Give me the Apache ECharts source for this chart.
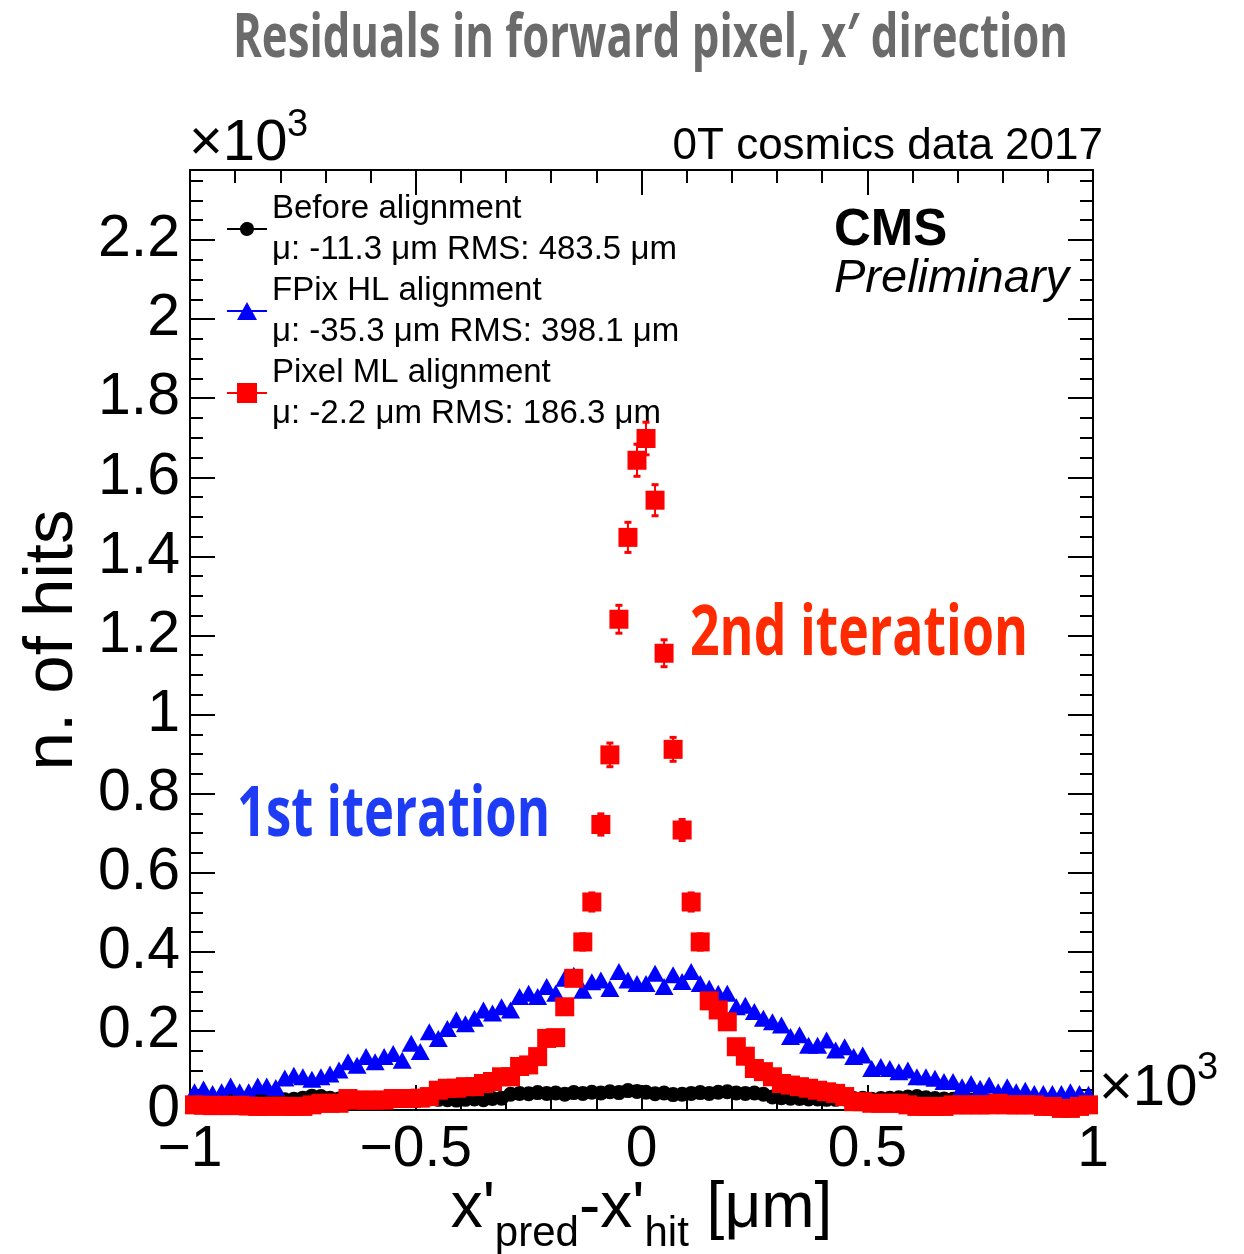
<!DOCTYPE html>
<html>
<head>
<meta charset="utf-8">
<script src="https://cdn.jsdelivr.net/npm/echarts@6/dist/echarts.min.js"></script>
<style>
html, body { margin: 0; padding: 0; background: #fff; }
#chart { width: 1244px; height: 1254px; }
</style>
</head>
<body>
<div id="chart"></div>
<script>
// histogram binning: 100 bins of 20 um between -1000 and 1000 um
const binLow = -1000;
const binWidth = 20;

// hits per bin
const beforeAlign = [
  20, 22, 25, 24, 22, 26, 25, 23, 27, 25,
  26, 27, 30, 35, 34, 30, 28, 27, 25, 26,
  24, 26, 24, 27, 25, 26, 28, 27, 26, 25,
  27, 28, 26, 29, 30, 40, 42, 41, 44, 42,
  43, 40, 44, 42, 45, 43, 46, 44, 49, 47,
  45, 41, 43, 39, 40, 42, 44, 42, 45, 46,
  43, 42, 43, 40, 33, 31, 30, 29, 28, 28,
  27, 27, 28, 29, 30, 27, 29, 30, 31, 33,
  34, 31, 29, 28, 27, 26, 25, 24, 23, 22,
  23, 22, 21, 22, 20, 21, 20, 19, 20, 21
];
const fpixHL = [
  46, 53, 42, 46, 61, 46, 46, 61, 61, 57,
  81, 88, 84, 78, 84, 91, 101, 122, 113, 135,
  122, 135, 143, 126, 169, 148, 198, 181, 206, 228,
  218, 232, 253, 245, 261, 253, 287, 295, 287, 312,
  295, 333, 341, 303, 324, 329, 307, 350, 329, 320,
  320, 346, 312, 342, 325, 350, 320, 308, 295, 295,
  261, 265, 249, 232, 223, 215, 186, 190, 164, 164,
  177, 152, 160, 135, 139, 105, 110, 105, 97, 101,
  84, 84, 80, 72, 72, 59, 67, 55, 63, 46,
  59, 46, 50, 42, 42, 42, 42, 46, 42, 40
];
const pixelML = [
  13, 12, 11, 12, 11, 12, 10, 9, 9, 10,
  9, 9, 9, 13, 17, 17, 17, 29, 25, 25,
  25, 25, 29, 29, 29, 30, 34, 50, 55, 55,
  59, 59, 67, 72, 84, 84, 110, 114, 135, 181,
  183, 261, 333, 425, 526, 722, 898, 1241, 1448, 1643,
  1698, 1542, 1155, 912, 708, 526, 425, 276, 253, 223,
  160, 136, 105, 97, 84, 67, 63, 59, 55, 50,
  46, 42, 34, 21, 21, 17, 17, 17, 17, 13,
  9, 9, 9, 9, 13, 13, 13, 13, 13, 17,
  13, 13, 13, 13, 9, 9, 4, 4, 9, 13
];

const seriesNames = ['Before alignment', 'FPix HL alignment', 'Pixel ML alignment'];
const seriesStats = ['\u03bc: -11.3 \u03bcm RMS: 483.5 \u03bcm', '\u03bc: -35.3 \u03bcm RMS: 398.1 \u03bcm', '\u03bc: -2.2 \u03bcm RMS: 186.3 \u03bcm'];
const seriesColors = ['#000000', '#0000ff', '#ff0000'];

const xMin = -1000, xMax = 1000, xMajor = 500;
const yMin = 0, yMax = 2377, yMajor = 200, yMinor = 50;

const helv = '"Liberation Sans", Arial, Helvetica, sans-serif';

function toPoints(counts) {
  return counts.map(function (c, i) { return [binLow + binWidth * (i + 0.5), c]; });
}

function fitScale(text, font, width) {
  const ctx = document.createElement('canvas').getContext('2d');
  ctx.font = font;
  return width / ctx.measureText(text).width;
}

function errorBars(color) {
  return function (params, api) {
    const x = api.value(0), v = api.value(1), e = Math.sqrt(v);
    const hi = api.coord([x, v + e]);
    const lo = api.coord([x, v - e]);
    return {
      type: 'group',
      children: [
        { type: 'line', shape: { x1: hi[0], y1: hi[1], x2: lo[0], y2: lo[1] }, style: { stroke: color, lineWidth: 2 } },
        { type: 'line', shape: { x1: hi[0] - 3.5, y1: hi[1], x2: hi[0] + 3.5, y2: hi[1] }, style: { stroke: color, lineWidth: 3 } },
        { type: 'line', shape: { x1: lo[0] - 3.5, y1: lo[1], x2: lo[0] + 3.5, y2: lo[1] }, style: { stroke: color, lineWidth: 3 } }
      ]
    };
  };
}

function xLabel(v) {
  const t = Math.abs(v / 1000);
  return (v < 0 ? '\u2212' : '') + t;
}
function yLabel(v) {
  return String(parseFloat((v / 1000).toFixed(1)));
}

const legendIcons = [
  'path://M0,9H13.07A7,7 0 0 1 26.93,9H40V11H26.93A7,7 0 0 1 13.07,11H0Z',
  'path://M0,8H15.56L20,0L24.44,8H40V10H25.56L30,18H10L14.44,10H0Z',
  'path://M0,9H10V0H30V9H40V11H30V20H10V11H0Z'
];

const axisLine = { show: true, onZero: false, lineStyle: { color: '#000', width: 2 } };
const noLine = { show: false, onZero: false };

function xAxisDef(pos, withLabels) {
  return {
    type: 'value', position: pos, min: xMin, max: xMax, interval: xMajor,
    axisLine: axisLine,
    axisTick: { show: true, inside: true, length: 25, lineStyle: { color: '#000', width: 2 } },
    minorTick: { show: true, splitNumber: 5, length: 13, lineStyle: { color: '#000', width: 2 } },
    splitLine: { show: false },
    axisLabel: withLabels
      ? { show: true, formatter: xLabel, fontSize: 57, fontFamily: helv, color: '#000', margin: 12 }
      : { show: false }
  };
}
function yAxisDef(pos, step, len, withLabels) {
  return {
    type: 'value', position: pos, min: yMin, max: yMax, interval: step,
    axisLine: step === yMajor ? axisLine : noLine,
    axisTick: { show: true, inside: true, length: len, lineStyle: { color: '#000', width: 2 } },
    splitLine: { show: false },
    axisLabel: withLabels
      ? { show: true, formatter: yLabel, fontSize: 59, fontFamily: helv, color: '#000', margin: 10, showMaxLabel: false }
      : { show: false }
  };
}

const xName = {
  name: '{m|x\'}{s|pred}{m|-x\'}{s|hit}{m| [\u03bcm]}',
  nameLocation: 'middle', nameGap: 67, nameMoveOverlap: false,
  nameTextStyle: {
    rich: {
      m: { fontSize: 64, fontFamily: helv, color: '#000', verticalAlign: 'top', lineHeight: 64 },
      s: { fontSize: 42, fontFamily: helv, color: '#000', verticalAlign: 'top', lineHeight: 42, padding: [36, 0, 0, 0] }
    }
  }
};

const xAxes = [Object.assign(xAxisDef('bottom', true), xName), xAxisDef('top', false)];
const yAxes = [
  Object.assign(yAxisDef('left', yMajor, 25, true), {
    name: 'n. of hits', nameLocation: 'middle', nameRotate: 90, nameGap: 100,
    nameTextStyle: { fontSize: 69, fontFamily: helv, color: '#000' }
  }),
  yAxisDef('left', yMinor, 13, false),
  yAxisDef('right', yMajor, 25, false),
  yAxisDef('right', yMinor, 13, false)
];

const titleText = 'Residuals in forward pixel, x\u2032 direction';
const titleFont = 'bold 60px "Open Sans"';
const firstText = '1st iteration';
const secondText = '2nd iteration';
const iterFont = 'bold 70px "Open Sans"';

const chart = echarts.init(document.getElementById('chart'));
chart.setOption({
  animation: false,
  backgroundColor: '#fff',
  grid: { left: 190, right: 151, top: 170, bottom: 144, outerBoundsMode: 'none', containLabel: false },
  xAxis: xAxes,
  yAxis: yAxes,
  legend: {
    orient: 'vertical', left: 222, top: 183,
    itemWidth: 40, itemHeight: 20, itemGap: 0,
    selectedMode: false,
    data: seriesNames.map(function (n, i) { return { name: n, icon: legendIcons[i] }; }),
    formatter: function (name) {
      return '{a|' + name + '}\n{a|' + seriesStats[seriesNames.indexOf(name)] + '}';
    },
    textStyle: { lineHeight: 41, rich: { a: { fontSize: 33, lineHeight: 41, fontFamily: helv, color: '#000' } } }
  },
  series: [
    { name: seriesNames[0], type: 'scatter', symbol: 'circle', symbolSize: 15, data: toPoints(beforeAlign),
      itemStyle: { color: seriesColors[0], opacity: 1 }, z: 2 },
    { name: seriesNames[1], type: 'scatter', symbol: 'triangle', symbolSize: [19, 17], data: toPoints(fpixHL),
      itemStyle: { color: seriesColors[1], opacity: 1 }, z: 3 },
    { type: 'custom', renderItem: errorBars(seriesColors[2]), data: toPoints(pixelML), z: 4, silent: true },
    { name: seriesNames[2], type: 'scatter', symbol: 'rect', symbolSize: 19, data: toPoints(pixelML),
      itemStyle: { color: seriesColors[2], opacity: 1 }, z: 5 }
  ],
  graphic: [
    { type: 'text', x: 233, y: 40, scaleX: fitScale(titleText, titleFont, 835),
      style: { text: titleText, font: titleFont, fill: '#6b6b6b', align: 'left', verticalAlign: 'middle' } },
    { type: 'text', x: 1103, y: 147,
      style: { text: '0T cosmics data 2017', font: '44px ' + helv, fill: '#000', align: 'right', verticalAlign: 'middle' } },
    { type: 'text', x: 189, y: 144,
      style: { text: '\u00d710', font: '58px ' + helv, fill: '#000', align: 'left', verticalAlign: 'middle' } },
    { type: 'text', x: 287, y: 126,
      style: { text: '3', font: '38px ' + helv, fill: '#000', align: 'left', verticalAlign: 'middle' } },
    { type: 'text', x: 1099, y: 1089,
      style: { text: '\u00d710', font: '58px ' + helv, fill: '#000', align: 'left', verticalAlign: 'middle' } },
    { type: 'text', x: 1197, y: 1069,
      style: { text: '3', font: '38px ' + helv, fill: '#000', align: 'left', verticalAlign: 'middle' } },
    { type: 'text', x: 834, y: 231,
      style: { text: 'CMS', font: 'bold 51px ' + helv, fill: '#000', align: 'left', verticalAlign: 'middle' } },
    { type: 'text', x: 834, y: 279,
      style: { text: 'Preliminary', font: 'italic 47px ' + helv, fill: '#000', align: 'left', verticalAlign: 'middle' } },
    { type: 'text', x: 237, y: 816, scaleX: fitScale(firstText, iterFont, 313),
      style: { text: firstText, font: iterFont, fill: '#1f3cf5', align: 'left', verticalAlign: 'middle' } },
    { type: 'text', x: 690, y: 635, scaleX: fitScale(secondText, iterFont, 338),
      style: { text: secondText, font: iterFont, fill: '#ff2a00', align: 'left', verticalAlign: 'middle' } }
  ]
});
</script>
</body>
</html>
